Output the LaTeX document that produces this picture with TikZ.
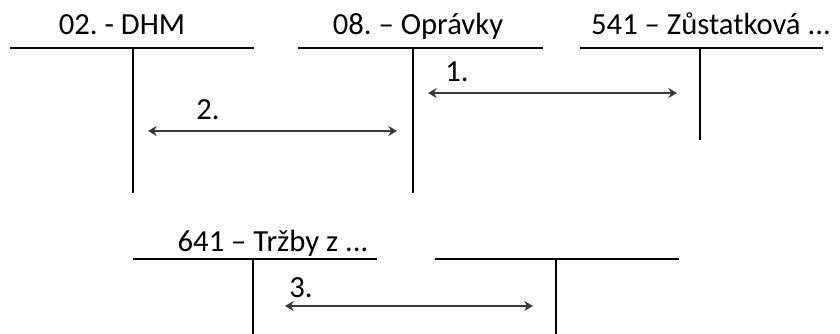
\documentclass[tikz,border=0pt]{standalone}
\usepackage{fontspec}
\setmainfont{Carlito}
\usetikzlibrary{arrows.meta}
\definecolor{arrowgray}{HTML}{3A3A3A}
\frenchspacing
\tikzset{
  acct/.style={line width=1pt, draw=black},
  lbl/.style={anchor=base, inner sep=0pt, font=\fontsize{23}{27}\selectfont},
  num/.style={anchor=base, inner sep=0pt, font=\fontsize{23}{27}\selectfont},
  flow/.style={line width=1.6pt, draw=arrowgray, {Stealth[length=6.5pt,width=7.5pt,inset=2pt]}-{Stealth[length=6.5pt,width=7.5pt,inset=2pt]}}
}
\begin{document}
\begin{tikzpicture}[x=0.75pt,y=-0.75pt]
\useasboundingbox (0,0) rectangle (840,334);
% account labels
\node[lbl] (t1) at (122,35) {02. - DHM};
\node[lbl] (t2) at (418,35) {08. – Oprávky};
\node[lbl] (t3) at (711,35) {541 – Zůstatková ...};
\node[lbl] (t4) at (273,252) {641 – Tržby z ...};
% T accounts
\draw[acct] (10,48) -- (254,48);
\draw[acct] (133,48) -- (133,193);
\draw[acct] (298,48) -- (543,48);
\draw[acct] (413,48) -- (413,193);
\draw[acct] (580,48) -- (823,48);
\draw[acct] (700,48) -- (700,140);
\draw[acct] (133,259) -- (377,259);
\draw[acct] (253,259) -- (253,334);
\draw[acct] (435,259) -- (679,259);
\draw[acct] (556,259) -- (556,334);
% arrow end points
\coordinate (a1s) at (428,93);
\coordinate (a1e) at (677,93);
\coordinate (a2s) at (148,131);
\coordinate (a2e) at (397,131);
\coordinate (a3s) at (285,306);
\coordinate (a3e) at (533,306);
\draw[flow] (a1s) -- (a1e);
\draw[flow] (a2s) -- (a2e);
\draw[flow] (a3s) -- (a3e);
% numbers
\node[num] (n1) at (457,82) {1.};
\node[num] (n2) at (208,120) {2.};
\node[num] (n3) at (301,298) {3.};
\end{tikzpicture}
\end{document}
